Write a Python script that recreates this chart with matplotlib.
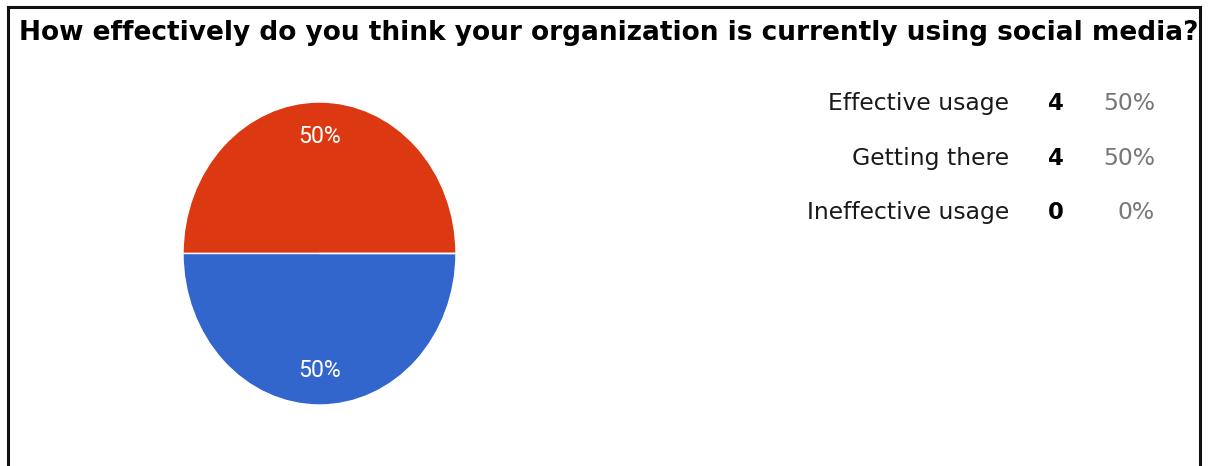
import matplotlib
matplotlib.use("Agg")
import matplotlib.pyplot as plt
from matplotlib.lines import Line2D

title = "How effectively do you think your organization is currently using social media?"
categories = ["Effective usage", "Getting there", "Ineffective usage"]
counts = [4, 4, 0]
colors = ["#DC3912", "#3366CC", "#FF9900"]

W, H = 1211, 466
fig = plt.figure(figsize=(W / 100, H / 100), dpi=100)
fig.patch.set_facecolor("white")
renderer = fig.canvas.get_renderer()

WIDE = ["DejaVu Sans"]
SLICE_FONT = ["Roboto", "DejaVu Sans"]


def fitted_text(x, y, s, width_px, **kw):
    """Place text at pixel coords (top-left origin), sized so it spans width_px."""
    t = fig.text(x / W, 1 - y / H, s, fontsize=10, **kw)
    w = t.get_window_extent(renderer).width
    t.set_fontsize(10 * width_px / w)
    return t


# frame around the panel (open at the bottom)
lw = 2.2
x0, x1, y_top = 7.5 / W, 1200 / W, 1 - 6.5 / H
for xs, ys in [((x0, x0), (0, y_top)), ((x1, x1), (0, y_top)), ((x0, x1), (y_top, y_top))]:
    fig.add_artist(Line2D(xs, ys, transform=fig.transFigure, color="#111111", lw=lw))

fitted_text(19, 40.5, title, 1176, family=WIDE, fontweight="bold",
            ha="left", va="baseline", color="#000000")

# pie
ax = fig.add_axes([183 / W, 1 - 405 / H, 273 / W, 303 / H])
total = sum(counts)
wedges, _, autotexts = ax.pie(
    counts, colors=colors, startangle=0, counterclock=True, radius=1,
    wedgeprops=dict(edgecolor="white", linewidth=1.0),
    autopct=lambda p: f"{p:.0f}%" if p > 0 else "", pctdistance=0.77,
    textprops=dict(color="white", fontsize=10, family=SLICE_FONT))
ax.set_xlim(-1.0, 1.0)
ax.set_ylim(-1.0, 1.0)
ax.set_aspect("auto")
ax.axis("off")
for t in autotexts:
    if t.get_text():
        w = t.get_window_extent(renderer).width
        t.set_fontsize(10 * 43 / w)

# legend table
rows_y = [110, 164.5, 219]
label_size = None
for y, cat, n in zip(rows_y, categories, counts):
    pct = 100 * n / total
    if label_size is None:
        t = fitted_text(1009, y, cat, 181, family=WIDE, ha="right",
                        va="baseline", color="#1a1a1a")
        label_size = t.get_fontsize()
    else:
        fig.text(1009 / W, 1 - y / H, cat, fontsize=label_size, family=WIDE,
                 ha="right", va="baseline", color="#1a1a1a")
    fig.text(1056 / W, 1 - y / H, str(n), fontsize=label_size * 0.97, family=WIDE,
             fontweight="bold", ha="center", va="baseline", color="#000000")
    fig.text(1155 / W, 1 - y / H, f"{pct:.0f}%", fontsize=label_size, family=WIDE,
             ha="right", va="baseline", color="#777777")

fig.savefig("out.png", dpi=100, facecolor="white")
